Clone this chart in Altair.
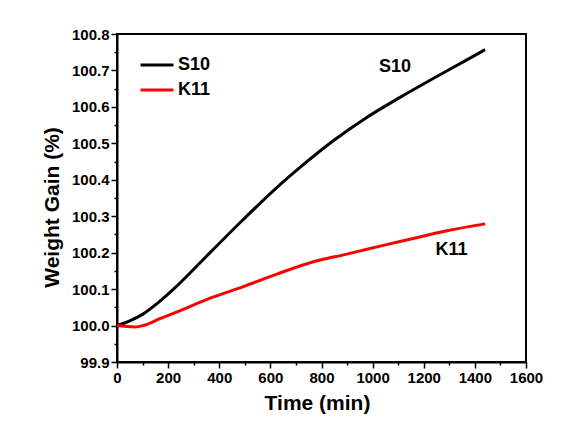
import altair as alt
import pandas as pd

# ---- data ----
s10_time = [0, 50, 103, 160, 220, 364, 494, 651, 716, 846, 977, 1107, 1237, 1374, 1440]
s10_gain = [100.0, 100.013, 100.032, 100.062, 100.099, 100.200, 100.291, 100.395,
            100.434, 100.507, 100.571, 100.626, 100.678, 100.731, 100.757]

k11_time = [0, 30, 70, 103, 168, 233, 364, 494, 625, 768, 899, 1029, 1159, 1290, 1440]
k11_gain = [100.0, 99.998, 99.996, 100.0, 100.019, 100.037, 100.075, 100.107,
            100.141, 100.175, 100.196, 100.218, 100.239, 100.260, 100.279]

series_names = ["S10", "K11"]
series_colors = ["#000000", "#ff0000"]

note_text = ["S10", "K11"]
note_time = [1088, 1309]
note_gain = [100.709, 100.207]

x_ticks = list(range(0, 1601, 100))
y_ticks = [round(99.9 + 0.05 * i, 2) for i in range(19)]

rows = []
for t, v in zip(s10_time, s10_gain):
    rows.append({"time": t, "gain": v, "series": "S10"})
for t, v in zip(k11_time, k11_gain):
    rows.append({"time": t, "gain": v, "series": "K11"})
df = pd.DataFrame(rows)
notes = pd.DataFrame({"text": note_text, "time": note_time, "gain": note_gain})

FONT = "Liberation Sans"

x_scale = alt.Scale(domain=[0, 1600], nice=False, zero=False)
y_scale = alt.Scale(domain=[99.9, 100.8], nice=False, zero=False)

Y_MAJOR = "abs(datum.value*10 - round(datum.value*10)) < 0.01"

x_axis = alt.Axis(
    title="Time (min)",
    values=x_ticks,
    labelExpr="datum.value % 200 == 0 ? datum.label : ''",
    tickSize={"condition": {"test": "datum.value % 200 == 0", "value": 6}, "value": 3},
    titleX=200, titleY=47, titleBaseline="alphabetic",
    format="d",
    labelOverlap=False,
    labelFlush=False,
)
y_axis = alt.Axis(
    title="Weight Gain (%)",
    values=y_ticks,
    labelExpr=Y_MAJOR + " ? format(datum.value, '.1f') : ''",
    tickSize={"condition": {"test": Y_MAJOR, "value": 6}, "value": 3},
    titleX=-59, titleY=173, titleBaseline="alphabetic",
    labelOverlap=False,
    labelFlush=False,
)

lines = alt.Chart(df).mark_line(strokeWidth=3, interpolate="monotone").encode(
    x=alt.X("time:Q", scale=x_scale, axis=x_axis),
    y=alt.Y("gain:Q", scale=y_scale, axis=y_axis),
    color=alt.Color(
        "series:N",
        scale=alt.Scale(domain=series_names, range=series_colors),
        legend=alt.Legend(
            title=None,
            orient="none",
            legendX=30,
            legendY=21,
            symbolType="M-2,0H2",
            symbolSize=272,
            symbolStrokeWidth=3,
            labelFont=FONT,
            labelFontSize=18,
            labelFontWeight="bold",
            labelColor="black",
            labelOffset=11,
            rowPadding=6,
            padding=0,
        ),
    ),
)

texts = alt.Chart(notes).mark_text(
    font=FONT, fontSize=18, fontWeight="bold", color="black"
).encode(
    x=alt.X("time:Q", scale=x_scale, axis=x_axis),
    y=alt.Y("gain:Q", scale=y_scale, axis=y_axis),
    text="text:N",
)

chart = alt.layer(lines, texts).properties(
    width=409,
    height=328,
    autosize=alt.AutoSizeParams(type="none"),
    padding={"left": 109, "top": 26, "right": 40, "bottom": 60},
    background="white",
).configure_view(
    stroke="black", strokeWidth=2
).configure_axis(
    domainColor="black",
    domainWidth=2,
    tickColor="black",
    tickWidth=1.5,
    labelFont=FONT,
    labelFontSize=15,
    labelFontWeight="bold",
    labelColor="black",
    labelPadding=2,
    labelOverlap=False,
    labelFlush=False,
    grid=False,
    titleFont=FONT,
    titleFontSize=21,
    titleFontWeight="bold",
    titleColor="black",
)

chart.save("out.html", embed_options={"renderer": "svg", "actions": False})
